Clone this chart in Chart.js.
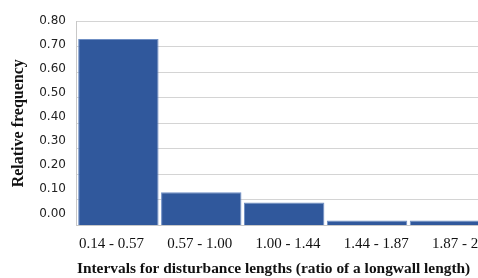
<!DOCTYPE html>
<html>
<head>
<meta charset="utf-8">
<script src="https://cdn.jsdelivr.net/npm/chart.js@4"></script>
<style>
  html, body { margin: 0; padding: 0; background: #fff; overflow: hidden; }
  #wrap { width: 508px; height: 278px; position: relative; }
</style>
</head>
<body>
<div id="wrap"><canvas id="chart"></canvas></div>
<script>
const categories = ["0.14 - 0.57", "0.57 - 1.00", "1.00 - 1.44", "1.44 - 1.87", "1.87 - 2.30"];
const frequencies = [0.73, 0.13, 0.09, 0.02, 0.02];
const yTickValues = [0, 0.1, 0.2, 0.3, 0.4, 0.5, 0.6, 0.7, 0.8];
const xTickIndex = [0, 1, 2, 3, 4];

const serif = "'Liberation Serif', 'Times New Roman', serif";
const sans = "'DejaVu Sans', Verdana, sans-serif";

// label axes are a bit off from the grid in the picture, so they get their own ranges
const xLabelMin = -0.392, xLabelMax = 4.306;
const yLabelMin = -0.0503, yLabelMax = 0.8;

new Chart(document.getElementById("chart"), {
    type: "bar",
    data: {
        labels: categories,
        datasets: [{
            label: "Relative frequency",
            data: frequencies,
            backgroundColor: "#30589c",
            borderColor: "#6f8fc4",
            borderWidth: 1,
            barPercentage: 0.97,
            categoryPercentage: 1.0
        }]
    },
    options: {
        responsive: true,
        maintainAspectRatio: false,
        animation: false,
        layout: { padding: { top: 21, right: 0, left: 9, bottom: 0 } },
        plugins: {
            legend: { display: false },
            tooltip: { enabled: false }
        },
        scales: {
            x: {
                ticks: { display: false },
                grid: { display: false, drawTicks: false },
                border: { display: true, color: "#c8c8c8" }
            },
            xl: {
                type: "linear",
                position: "bottom",
                weight: 1,
                offset: false,
                min: xLabelMin,
                max: xLabelMax,
                afterBuildTicks: axis => {
                    axis.ticks = xTickIndex.map(v => ({ value: v }));
                },
                grid: { display: false, drawTicks: false, offset: false },
                border: { display: false },
                ticks: {
                    color: "#111",
                    font: { family: serif, size: 15 },
                    padding: 10,
                    autoSkip: false,
                    maxRotation: 0,
                    callback: v => categories[v]
                },
                title: {
                    display: true,
                    align: "start",
                    text: "Intervals for disturbance lengths (ratio of a longwall length)",
                    color: "#111",
                    font: { family: serif, size: 15.4, weight: "bold" },
                    padding: { top: -4, bottom: 0 }
                }
            },
            y: {
                min: 0,
                max: 0.8,
                ticks: { display: false, stepSize: 0.1 },
                grid: { color: "#d4d4d4", drawTicks: false },
                border: { display: true, color: "#c8c8c8" }
            },
            yl: {
                position: "left",
                weight: 1,
                min: yLabelMin,
                max: yLabelMax,
                afterBuildTicks: axis => {
                    axis.ticks = yTickValues.map(v => ({ value: v }));
                },
                grid: { display: false, drawTicks: false },
                border: { display: false },
                ticks: {
                    color: "#222",
                    font: { family: sans, size: 12 },
                    padding: 11,
                    callback: v => Number(v).toFixed(2)
                },
                title: {
                    display: true,
                    text: "Relative frequency",
                    color: "#111",
                    font: { family: serif, size: 16, weight: "bold" },
                    padding: { top: 0, bottom: 0 }
                }
            }
        }
    }
});
</script>
</body>
</html>
